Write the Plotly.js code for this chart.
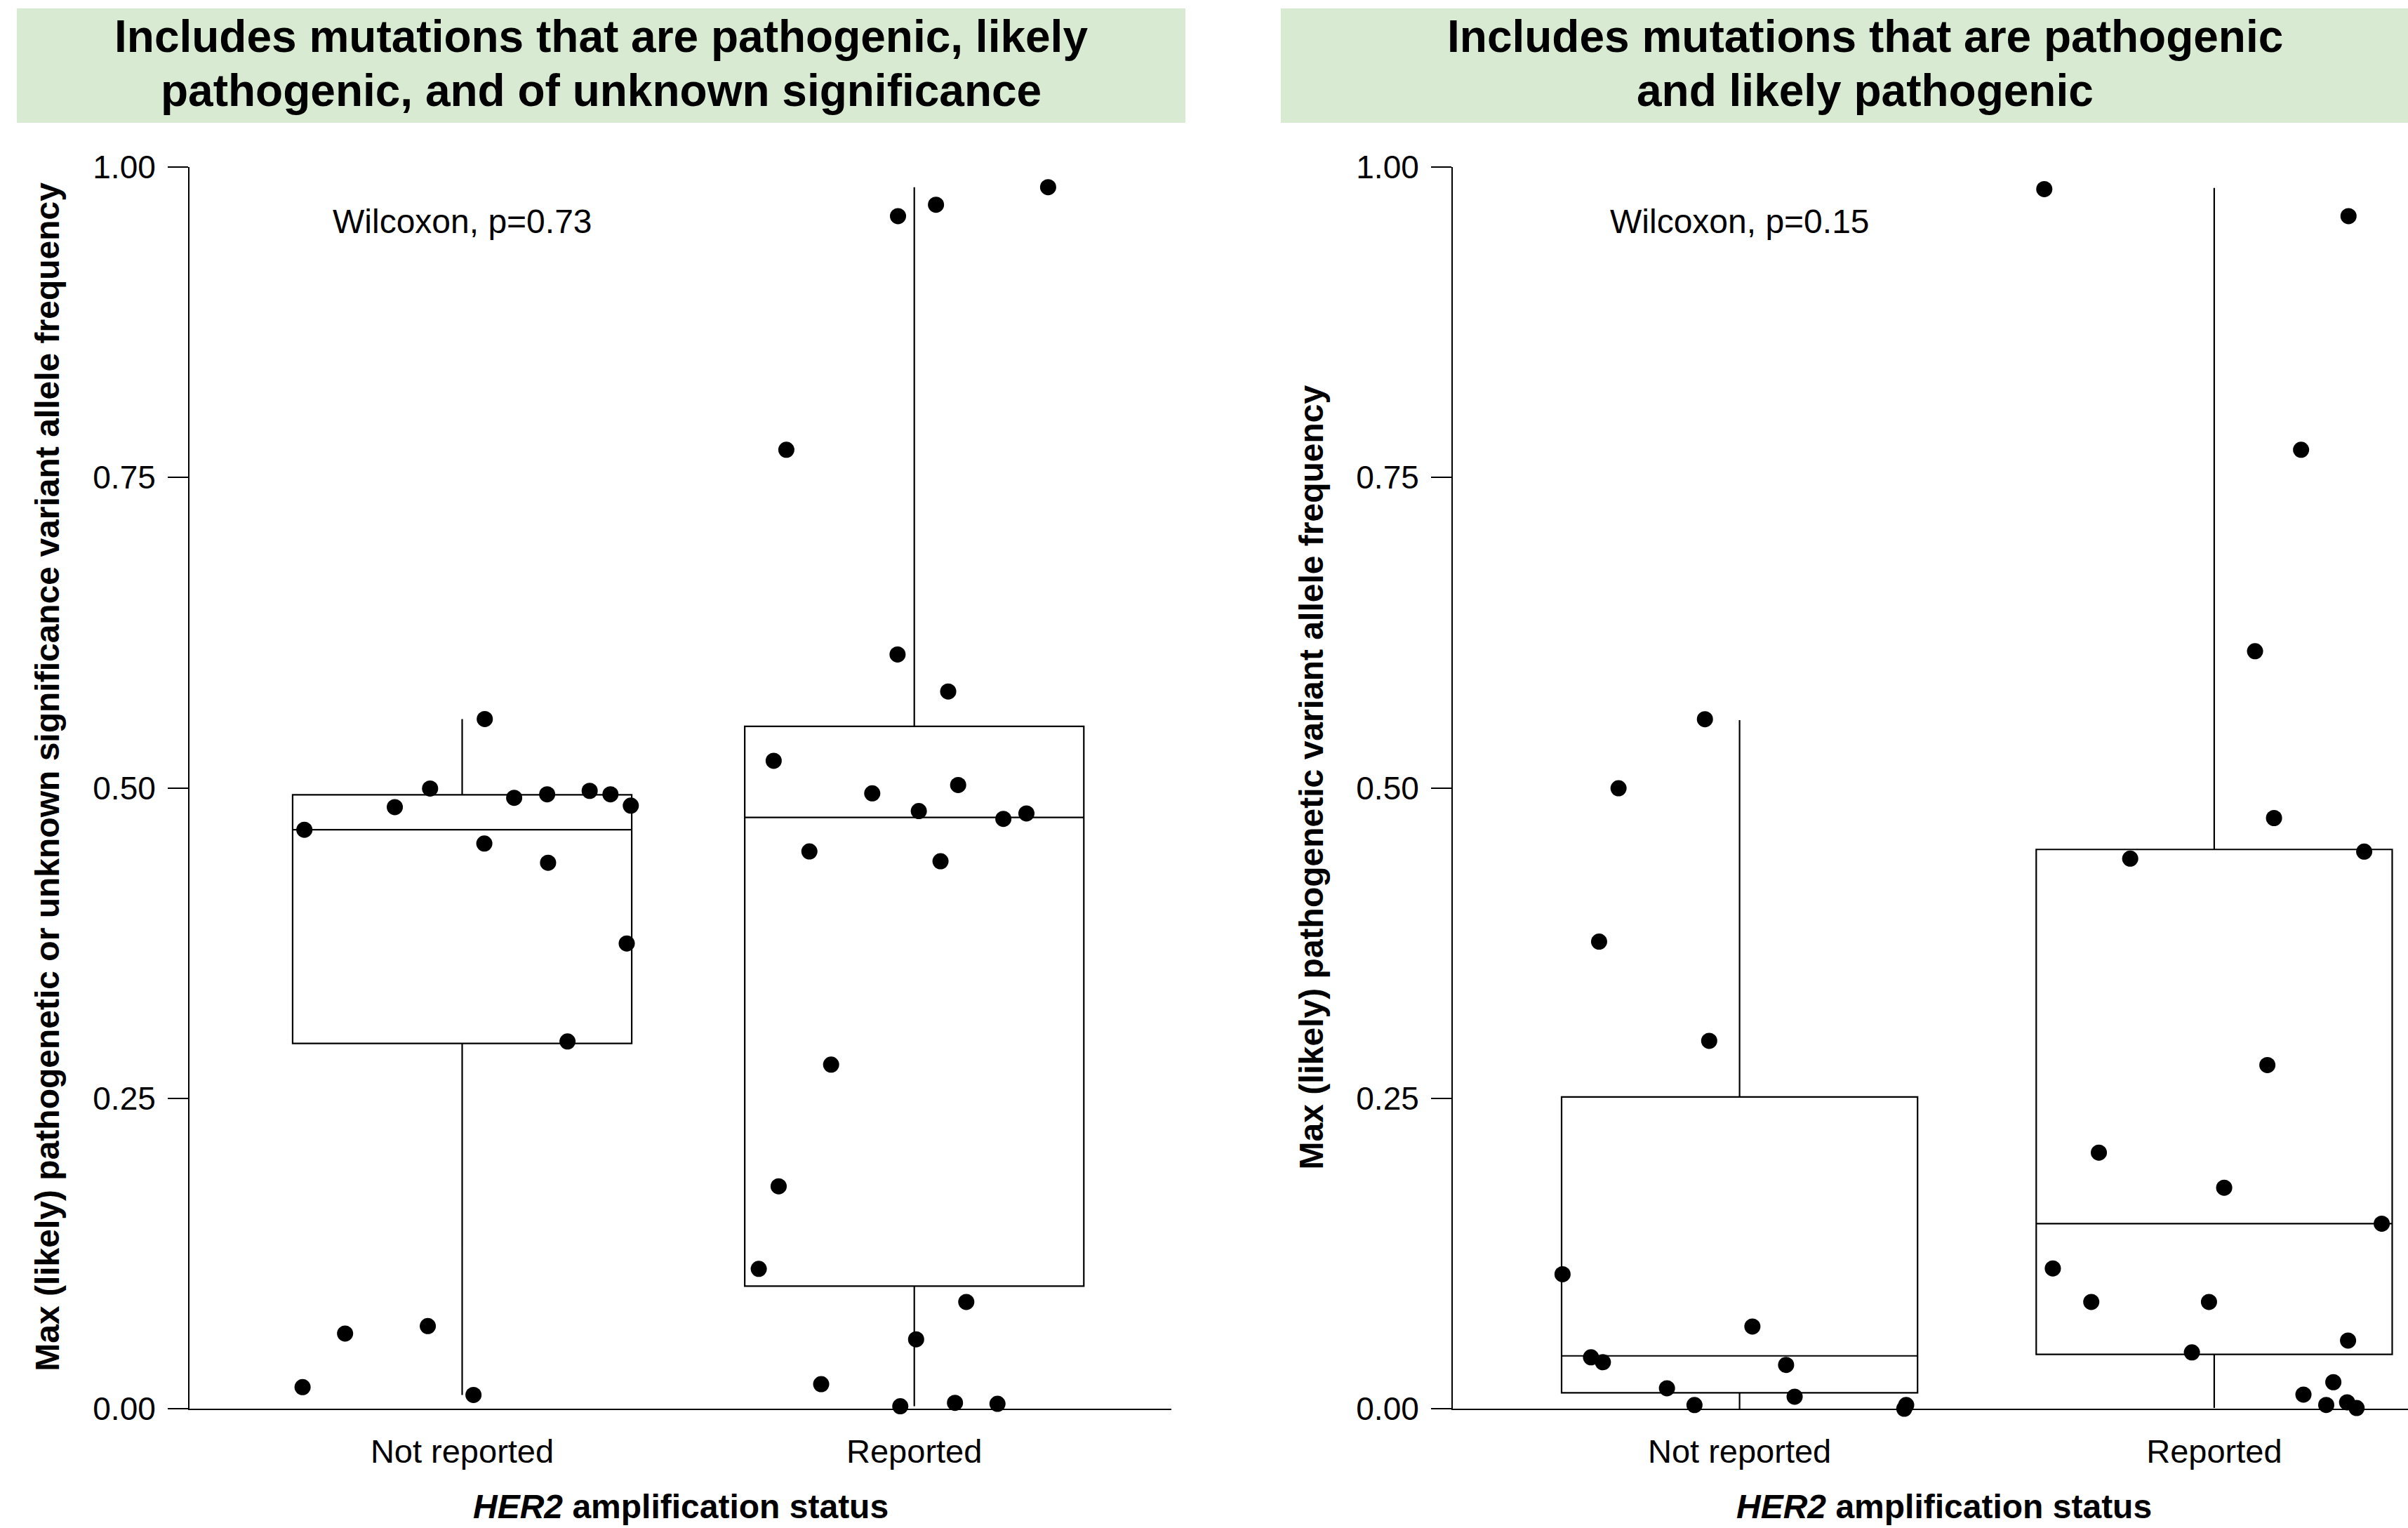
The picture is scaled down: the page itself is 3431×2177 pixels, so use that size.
<!DOCTYPE html>
<html>
<head>
<meta charset="utf-8">
<script src="https://cdn.plot.ly/plotly-3.0.1.min.js"></script>
<style>html,body{margin:0;padding:0;background:#fff;}#chart{width:3431px;height:2177px;}</style>
</head>
<body>
<div id="chart"></div>
<script>
// ---------- DATA ----------
const categories = ["Not reported", "Reported"];
const yTickVals = [0, 0.25, 0.5, 0.75, 1];
const yTickText = ["0.00", "0.25", "0.50", "0.75", "1.00"];

const stripTitleLeft = ["Includes mutations that are pathogenic, likely", "pathogenic, and of unknown significance"];
const stripTitleRight = ["Includes mutations that are pathogenic", "and likely pathogenic"];
const yTitleLeft = "Max (likely) pathogenetic or unknown significance variant allele frequency";
const yTitleRight = "Max (likely) pathogenetic variant allele frequency";
const pTextLeft = "Wilcoxon, p=0.73";
const pTextRight = "Wilcoxon, p=0.15";

// Left panel: pathogenic + likely pathogenic + VUS
const leftNRValues = [0.5554, 0.4995, 0.4845, 0.4920, 0.4948, 0.4976, 0.4948, 0.4857, 0.4663, 0.4552, 0.4397, 0.3747, 0.2958, 0.0607, 0.0667, 0.0175, 0.0112];
const leftNRJitter = [0.050, -0.071, -0.149, 0.115, 0.188, 0.282, 0.328, 0.373, -0.349, 0.049, 0.190, 0.364, 0.233, -0.259, -0.076, -0.353, 0.025];
const leftRValues = [0.5776, 0.5218, 0.5023, 0.4956, 0.4813, 0.4794, 0.4750, 0.4488, 0.4409, 0.2772, 0.1792, 0.1127, 0.0861, 0.0560, 0.0199, 0.0021, 0.0049, 0.0041, 0.9836, 0.9695, 0.9603, 0.7722, 0.6074];
const leftRJitter = [0.075, -0.311, 0.097, -0.093, 0.010, 0.248, 0.197, -0.232, 0.058, -0.184, -0.300, -0.344, 0.115, 0.004, -0.206, -0.031, 0.090, 0.184, 0.296, 0.048, -0.036, -0.283, -0.037];
// box statistics [Not reported, Reported]
const leftQ1 = [0.2942, 0.0988];
const leftMedian = [0.4663, 0.4762];
const leftQ3 = [0.4944, 0.5495];
const leftLowerWhisker = [0.0112, 0.0021];
const leftUpperWhisker = [0.5554, 0.9836];

// Right panel: pathogenic + likely pathogenic only
const rightNRValues = [0.5553, 0.4997, 0.3762, 0.2963, 0.1084, 0.0663, 0.0415, 0.0376, 0.0354, 0.0166, 0.0098, 0.0031, 0.0031, 0.0001];
const rightNRJitter = [-0.073, -0.255, -0.296, -0.064, -0.373, 0.027, -0.313, -0.288, 0.098, -0.153, 0.116, -0.095, 0.351, 0.347];
const rightRValues = [0.9821, 0.9603, 0.7722, 0.6100, 0.4757, 0.4430, 0.4487, 0.2768, 0.2063, 0.1781, 0.1491, 0.1131, 0.0861, 0.0861, 0.0550, 0.0455, 0.0215, 0.0115, 0.0032, 0.0053, 0.0007];
const rightRJitter = [-0.358, 0.283, 0.183, 0.086, 0.126, -0.177, 0.316, 0.112, -0.243, 0.021, 0.353, -0.340, -0.259, -0.011, 0.282, -0.047, 0.251, 0.188, 0.236, 0.280, 0.300];
const rightQ1 = [0.0130, 0.0439];
const rightMedian = [0.0427, 0.1491];
const rightQ3 = [0.2511, 0.4504];
const rightLowerWhisker = [0.0001, 0.0007];
const rightUpperWhisker = [0.5545, 0.9830];

// ---------- LAYOUT HELPERS ----------
const W = 3431, H = 2177;
const px = v => v / W;
const py = v => 1 - v / H;
const FONT = "Liberation Sans, Arial, Helvetica, sans-serif";
const catIdx = [0, 1];

function boxTrace(q1, med, q3, lo, hi, xa, ya) {
  return {
    type: "box", x: catIdx, q1: q1, median: med, q3: q3, lowerfence: lo, upperfence: hi,
    width: 0.75, whiskerwidth: 0, boxpoints: false,
    line: {color: "#000", width: 2.2}, fillcolor: "rgba(255,255,255,0)",
    xaxis: xa, yaxis: ya, hoverinfo: "skip", showlegend: false
  };
}
function pointTrace(cat, vals, jit, xa, ya) {
  return {
    type: "scatter", mode: "markers",
    x: vals.map((v, i) => cat + jit[i]), y: vals,
    marker: {color: "#000", size: 23, line: {width: 0}},
    cliponaxis: false, xaxis: xa, yaxis: ya, hoverinfo: "skip", showlegend: false
  };
}

const data = [
  boxTrace(leftQ1, leftMedian, leftQ3, leftLowerWhisker, leftUpperWhisker, "x", "y"),
  boxTrace(rightQ1, rightMedian, rightQ3, rightLowerWhisker, rightUpperWhisker, "x2", "y2"),
  pointTrace(0, leftNRValues, leftNRJitter, "x", "y"),
  pointTrace(1, leftRValues, leftRJitter, "x", "y"),
  pointTrace(0, rightNRValues, rightNRJitter, "x2", "y2"),
  pointTrace(1, rightRValues, rightRJitter, "x2", "y2")
];

const yDomain = [py(2007.3), py(237.7)];
function xAxis(domain, range) {
  return {
    domain: domain, range: range, showgrid: false, zeroline: false,
    showline: true, linecolor: "#000", linewidth: 2,
    tickmode: "array", tickvals: catIdx, ticktext: categories, ticks: "",
    tickfont: {family: FONT, size: 47, color: "#000"}, ticklabelstandoff: 18,
    fixedrange: true
  };
}
function yAxis(anchor) {
  return {
    domain: yDomain, range: [0, 1], anchor: anchor, showgrid: false, zeroline: false,
    showline: true, linecolor: "#000", linewidth: 2,
    tickmode: "array", tickvals: yTickVals, ticktext: yTickText,
    ticks: "outside", ticklen: 29, tickwidth: 2, tickcolor: "#000",
    tickfont: {family: FONT, size: 46, color: "#000"}, ticklabelstandoff: 8,
    fixedrange: true
  };
}

const titleFont = {family: FONT, size: 64, color: "#000"};
const annotations = [];
function stripLines(lines, cx) {
  const mids = [52.4, 129.5];
  lines.forEach((t, i) => annotations.push({
    xref: "paper", yref: "paper", x: px(cx), y: py(mids[i]), xanchor: "center", yanchor: "middle",
    text: "<b>" + t + "</b>", showarrow: false, font: titleFont
  }));
}
stripLines(stripTitleLeft, 856.5);
stripLines(stripTitleRight, 2657);

annotations.push({xref: "x", yref: "y", x: 0, y: 0.9559, xanchor: "center", yanchor: "middle",
  text: pTextLeft, showarrow: false, font: {family: FONT, size: 48, color: "#000"}});
annotations.push({xref: "x2", yref: "y2", x: 0, y: 0.9559, xanchor: "center", yanchor: "middle",
  text: pTextRight, showarrow: false, font: {family: FONT, size: 48, color: "#000"}});

annotations.push({xref: "paper", yref: "paper", x: px(67.5), y: py(1107.3), xanchor: "center", yanchor: "middle",
  textangle: -90, text: "<b>" + yTitleLeft + "</b>", showarrow: false, font: {family: FONT, size: 48, color: "#000"}});
annotations.push({xref: "paper", yref: "paper", x: px(1867.5), y: py(1108), xanchor: "center", yanchor: "middle",
  textangle: -90, text: "<b>" + yTitleRight + "</b>", showarrow: false, font: {family: FONT, size: 48, color: "#000"}});

const xTitle = "<b><i>HER2</i> amplification status</b>";
annotations.push({xref: "paper", yref: "paper", x: px(969.5), y: py(2146), xanchor: "center", yanchor: "middle",
  text: xTitle, showarrow: false, font: {family: FONT, size: 48, color: "#000"}});
annotations.push({xref: "paper", yref: "paper", x: px(2770), y: py(2146), xanchor: "center", yanchor: "middle",
  text: xTitle, showarrow: false, font: {family: FONT, size: 48, color: "#000"}});

const stripColor = "rgb(217,234,211)";
const shapes = [
  {type: "rect", xref: "paper", yref: "paper", x0: px(24), x1: px(1689), y0: py(175), y1: py(12),
   fillcolor: stripColor, line: {width: 0}, layer: "below"},
  {type: "rect", xref: "paper", yref: "paper", x0: px(1825), x1: px(3489), y0: py(175), y1: py(12),
   fillcolor: stripColor, line: {width: 0}, layer: "below"}
];

const layout = {
  width: W, height: H, margin: {l: 0, r: 0, t: 0, b: 0, autoexpand: false},
  paper_bgcolor: "#fff", plot_bgcolor: "rgba(0,0,0,0)",
  showlegend: false, font: {family: FONT, color: "#000"},
  xaxis: Object.assign(xAxis([px(270), px(1669)], [-0.6031, 1.5686]), {anchor: "y"}),
  yaxis: yAxis("x"),
  xaxis2: Object.assign(xAxis([px(2070), 1], [-0.6042, 1.4083]), {anchor: "y2"}),
  yaxis2: yAxis("x2"),
  shapes: shapes, annotations: annotations
};

Plotly.newPlot("chart", data, layout, {staticPlot: true, displayModeBar: false});
</script>
</body>
</html>
